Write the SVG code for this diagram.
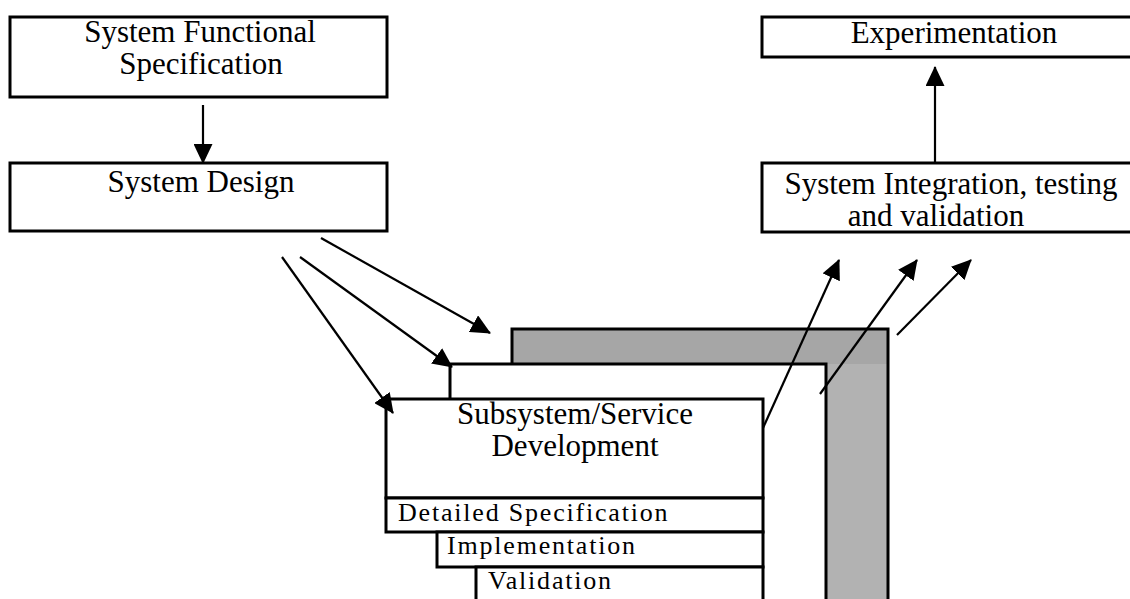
<svg xmlns="http://www.w3.org/2000/svg" width="1130" height="599" viewBox="0 0 1130 599">
<defs>
<style>
.box{fill:#fff;stroke:#000;stroke-width:3}
.edge{fill:none;stroke:#000;stroke-width:3}
.t{font-family:"Liberation Serif","Times New Roman",serif;font-size:31px;fill:#000;text-anchor:middle}
.s{font-family:"Liberation Serif","Times New Roman",serif;font-size:26px;fill:#000;letter-spacing:1.8px}
.c{fill:none;stroke:#000;stroke-width:2.2;marker-end:url(#ah)}
</style>
<marker id="ah" markerUnits="userSpaceOnUse" markerWidth="20" markerHeight="19" refX="19" refY="9.5" orient="auto" viewBox="0 0 20 19">
<path d="M0,0 L20,9.5 L0,19 z" fill="#000"/>
</marker>
</defs>
<g id="sfs">
<rect class="box" x="10" y="17" width="377" height="80"/>
<text class="t" x="200" y="42">System Functional</text>
<text class="t" x="201" y="74">Specification</text>
</g>
<g id="sd">
<rect class="box" x="10" y="163" width="377" height="68"/>
<text class="t" x="201" y="192">System Design</text>
</g>
<g id="exp">
<rect class="box" x="762" y="17" width="372" height="40"/>
<text class="t" x="954" y="43">Experimentation</text>
</g>
<g id="sit">
<rect class="box" x="762" y="163" width="372" height="69"/>
<text class="t" x="951" y="194">System Integration, testing</text>
<text class="t" x="936" y="226">and validation</text>
</g>
<g id="stack">
<rect x="512" y="329" width="376" height="290" fill="#a6a6a6"/>
<rect x="826" y="364" width="62" height="255" fill="#b2b2b2"/>
<path class="edge" d="M512,364 V329 H888 V620"/>
<rect x="450" y="364" width="376" height="255" fill="#fff"/>
<path class="edge" d="M450,399 V364 H826 V620"/>
</g>
<g id="ssd">
<rect class="box" x="386" y="399" width="377" height="99"/>
<text class="t" x="575" y="424">Subsystem/Service</text>
<text class="t" x="575" y="456">Development</text>
</g>
<g id="ds">
<rect class="box" x="386" y="498" width="377" height="34"/>
<text class="s" x="398" y="521">Detailed Specification</text>
</g>
<g id="impl">
<rect class="box" x="437" y="532" width="326" height="35"/>
<text class="s" x="447" y="554">Implementation</text>
</g>
<g id="val">
<path class="box" d="M476,620 V567 H763 V620"/>
<text class="s" x="488" y="589">Validation</text>
</g>
<g id="connectors">
<line class="c" x1="203" y1="105" x2="203" y2="163"/>
<line class="c" x1="935" y1="163" x2="935" y2="67"/>
<line class="c" x1="321" y1="238" x2="490" y2="333"/>
<line class="c" x1="300" y1="257" x2="452" y2="367"/>
<line class="c" x1="282" y1="257" x2="393" y2="413"/>
<line class="c" x1="763" y1="428" x2="839" y2="260"/>
<line class="c" x1="820" y1="394" x2="917" y2="260"/>
<line class="c" x1="897" y1="335" x2="971" y2="260"/>
</g>
</svg>
